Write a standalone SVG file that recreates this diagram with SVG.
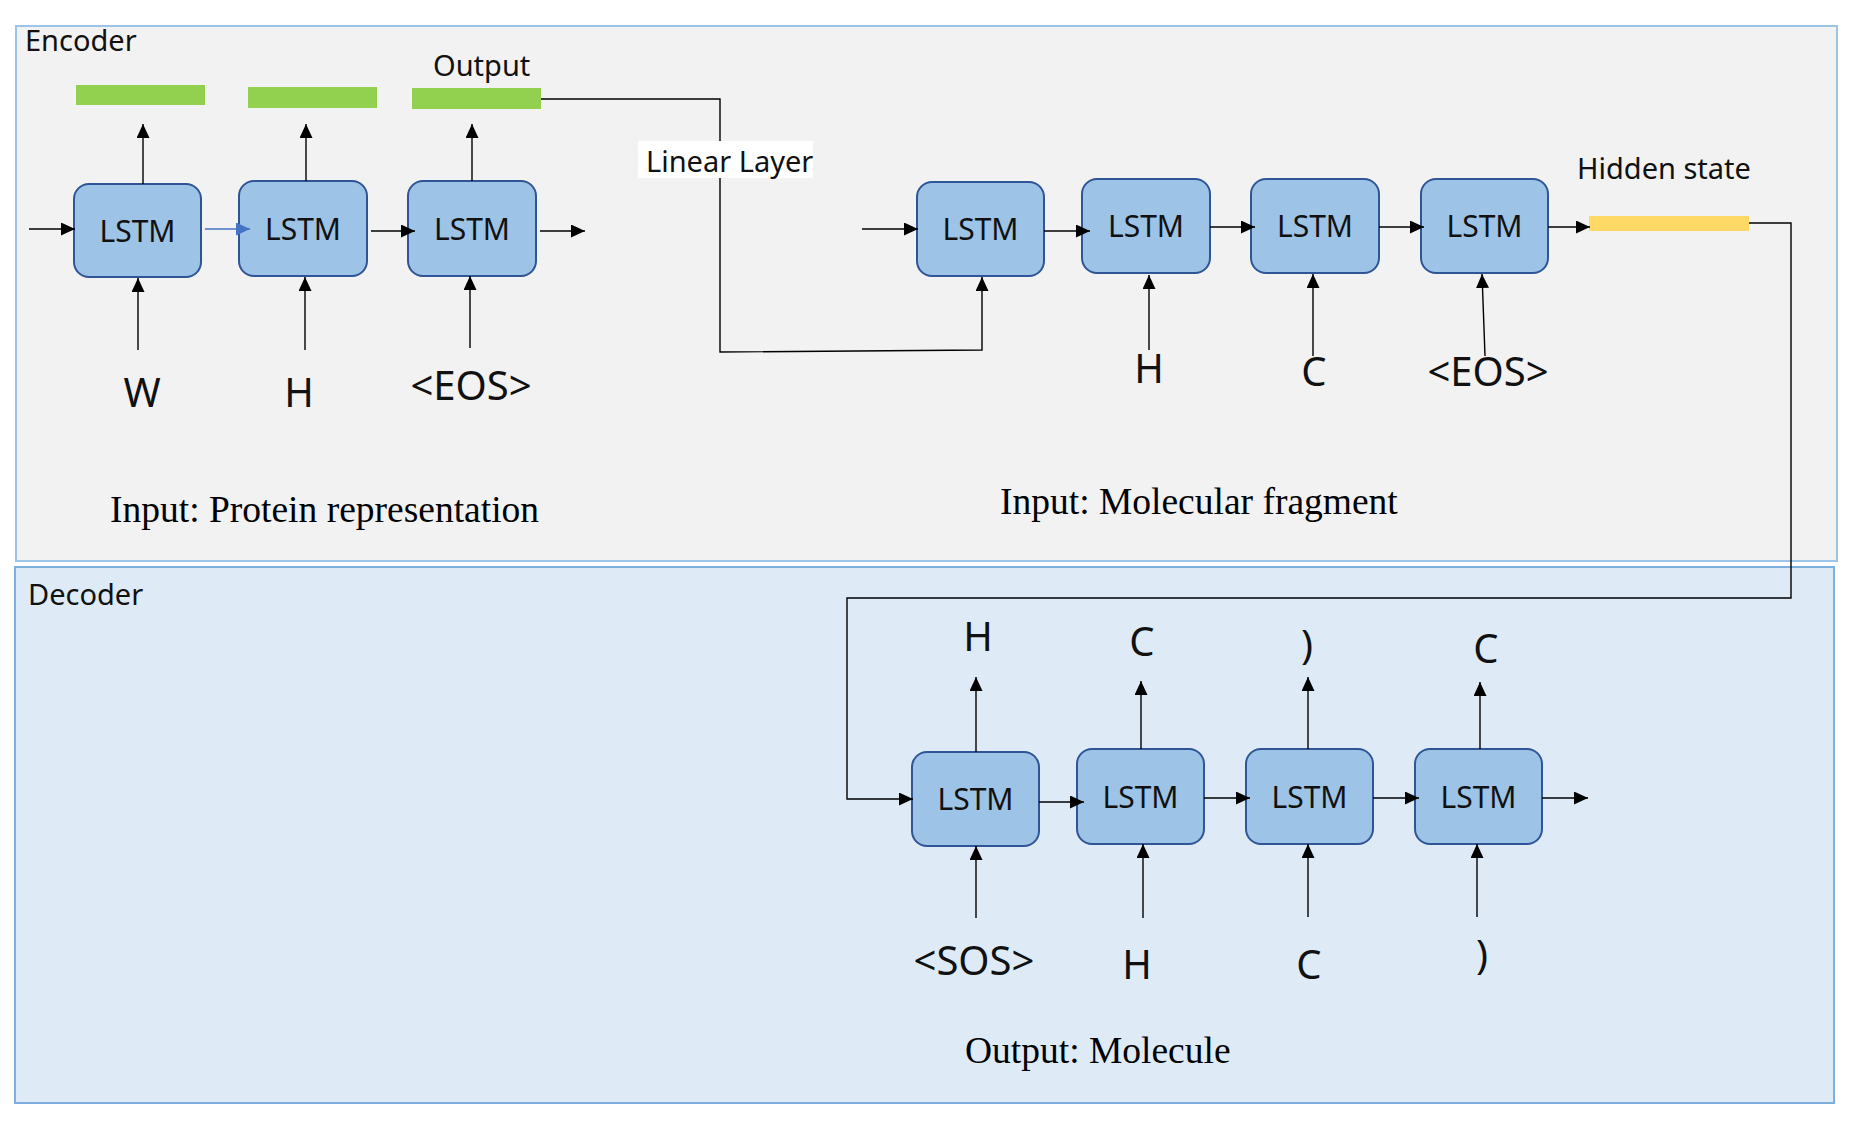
<svg xmlns="http://www.w3.org/2000/svg" width="1852" height="1125" viewBox="0 0 1852 1125">
<defs>
<marker id="ah" markerUnits="userSpaceOnUse" markerWidth="15" markerHeight="13" refX="14" refY="6.5" orient="auto">
<path d="M0,0 L14,6.5 L0,13 Z" fill="#000"/>
</marker>
<marker id="ahb" markerUnits="userSpaceOnUse" markerWidth="15" markerHeight="13" refX="14" refY="6.5" orient="auto">
<path d="M0,0 L14,6.5 L0,13 Z" fill="#4472C4"/>
</marker>
<style>
.box{fill:#9DC3E6;stroke:#2F5597;stroke-width:2}
.lt{font-family:"Noto Sans","Open Sans","DejaVu Sans",sans-serif;font-size:30px;fill:#111;text-anchor:middle}
.tok{font-family:"Noto Sans","Open Sans","DejaVu Sans",sans-serif;font-size:40px;fill:#111;text-anchor:middle}
.cap{font-family:"Noto Sans","Open Sans","DejaVu Sans",sans-serif;font-size:29px;fill:#111}
.ttl{font-family:"Noto Sans","Open Sans","DejaVu Sans",sans-serif;font-size:29px;fill:#111}
.ser{font-family:"Liberation Serif","Times New Roman",serif;font-size:37.5px;fill:#000}
.ar{fill:none;stroke:#000;stroke-width:1.4;marker-end:url(#ah)}
.green{fill:#92D050}
</style>
</defs>
<rect width="1852" height="1125" fill="#fff"/>
<g id="encoder-frame">
<rect x="16" y="26" width="1821" height="535" fill="#F2F2F2" stroke="#9DC3E6" stroke-width="2"/>
<text class="ttl" x="25" y="51">Encoder</text>
</g>
<g id="decoder-frame">
<rect x="15" y="567" width="1819" height="536" fill="#DEEBF7" stroke="#7EAEDC" stroke-width="2"/>
<text class="ttl" x="28" y="605">Decoder</text>
</g>
<g id="out-bars">
<rect class="green" x="76" y="85" width="129" height="20"/>
<rect class="green" x="248" y="87" width="129" height="21"/>
<rect class="green" x="412" y="88" width="129" height="21"/>
<text class="cap" x="433" y="76">Output</text>
</g>
<g id="hidden-state">
<rect x="1589" y="216" width="160" height="15" fill="#FFD966"/>
<text class="cap" x="1577" y="179">Hidden state</text>
</g>
<g id="enc1"><rect class="box" x="74" y="184" width="127" height="93" rx="15"/><text class="lt" x="137.5" y="242">LSTM</text></g>
<g id="enc2"><rect class="box" x="239" y="181" width="128" height="95" rx="15"/><text class="lt" x="303" y="240">LSTM</text></g>
<g id="enc3"><rect class="box" x="408" y="181" width="128" height="95" rx="15"/><text class="lt" x="472" y="240">LSTM</text></g>
<g id="enc4"><rect class="box" x="917" y="182" width="127" height="94" rx="15"/><text class="lt" x="980.5" y="240">LSTM</text></g>
<g id="enc5"><rect class="box" x="1082" y="179" width="128" height="94" rx="15"/><text class="lt" x="1146" y="237">LSTM</text></g>
<g id="enc6"><rect class="box" x="1251" y="179" width="128" height="94" rx="15"/><text class="lt" x="1315" y="237">LSTM</text></g>
<g id="enc7"><rect class="box" x="1421" y="179" width="127" height="94" rx="15"/><text class="lt" x="1484.5" y="237">LSTM</text></g>
<g id="dec1"><rect class="box" x="912" y="752" width="127" height="94" rx="15"/><text class="lt" x="975.5" y="810">LSTM</text></g>
<g id="dec2"><rect class="box" x="1077" y="749" width="127" height="95" rx="15"/><text class="lt" x="1140.5" y="808">LSTM</text></g>
<g id="dec3"><rect class="box" x="1246" y="749" width="127" height="95" rx="15"/><text class="lt" x="1309.5" y="808">LSTM</text></g>
<g id="dec4"><rect class="box" x="1415" y="749" width="127" height="95" rx="15"/><text class="lt" x="1478.5" y="808">LSTM</text></g>
<g id="connectors">
<line class="ar" x1="29" y1="229" x2="75" y2="229"/>
<line x1="205" y1="229" x2="250" y2="229" stroke="#4472C4" stroke-width="1.4" marker-end="url(#ahb)"/>
<line class="ar" x1="371" y1="231" x2="415" y2="231"/>
<line class="ar" x1="540" y1="231" x2="585" y2="231"/>
<line class="ar" x1="143" y1="184" x2="143" y2="124"/>
<line class="ar" x1="306" y1="181" x2="306" y2="124"/>
<line class="ar" x1="472" y1="181" x2="472" y2="124"/>
<line class="ar" x1="138" y1="350" x2="138" y2="278"/>
<line class="ar" x1="305" y1="350" x2="305" y2="277"/>
<line class="ar" x1="470" y1="348" x2="470" y2="276"/>
<polyline class="ar" points="541,99 720,99 720,352 982,350 982,277"/>
<line class="ar" x1="862" y1="229" x2="918" y2="229"/>
<line class="ar" x1="1044" y1="231" x2="1090" y2="231"/>
<line class="ar" x1="1210" y1="227" x2="1255" y2="227"/>
<line class="ar" x1="1379" y1="227" x2="1424" y2="227"/>
<line class="ar" x1="1548" y1="227" x2="1590" y2="227"/>
<line class="ar" x1="1149" y1="350" x2="1149" y2="275"/>
<line class="ar" x1="1313" y1="356" x2="1313" y2="274"/>
<line class="ar" x1="1485" y1="356" x2="1482" y2="274"/>
<polyline class="ar" points="1749,223 1791,223 1791,598 847,598 847,799 913,799"/>
<line class="ar" x1="1039" y1="802" x2="1084" y2="802"/>
<line class="ar" x1="1204" y1="798" x2="1250" y2="798"/>
<line class="ar" x1="1373" y1="798" x2="1419" y2="798"/>
<line class="ar" x1="1542" y1="798" x2="1588" y2="798"/>
<line class="ar" x1="976" y1="752" x2="976" y2="677"/>
<line class="ar" x1="1141" y1="749" x2="1141" y2="681"/>
<line class="ar" x1="1308" y1="749" x2="1308" y2="677"/>
<line class="ar" x1="1480" y1="749" x2="1480" y2="682"/>
<line class="ar" x1="976" y1="918" x2="976" y2="846"/>
<line class="ar" x1="1143" y1="918" x2="1143" y2="844"/>
<line class="ar" x1="1308" y1="917" x2="1308" y2="844"/>
<line class="ar" x1="1477" y1="917" x2="1477" y2="844"/>
</g>
<g id="linear-layer">
<rect x="638" y="141" width="175" height="37" fill="#fff"/>
<text class="cap" x="646" y="172" font-size="28">Linear Layer</text>
</g>
<g id="tokens">
<text class="tok" x="142" y="407">W</text>
<text class="tok" x="299" y="407">H</text>
<text class="tok" x="471" y="400">&lt;EOS&gt;</text>
<text class="tok" x="1149" y="383">H</text>
<text class="tok" x="1314" y="386">C</text>
<text class="tok" x="1488" y="386">&lt;EOS&gt;</text>
<text class="tok" x="978" y="651">H</text>
<text class="tok" x="1142" y="656">C</text>
<text class="tok" x="1307" y="659">)</text>
<text class="tok" x="1486" y="663">C</text>
<text class="tok" x="974" y="975">&lt;SOS&gt;</text>
<text class="tok" x="1137" y="979">H</text>
<text class="tok" x="1309" y="979">C</text>
<text class="tok" x="1482" y="969">)</text>
</g>
<g id="captions">
<text class="ser" x="110" y="522">Input: Protein representation</text>
<text class="ser" x="1000" y="514">Input: Molecular fragment</text>
<text class="ser" x="965" y="1063">Output: Molecule</text>
</g>
</svg>
